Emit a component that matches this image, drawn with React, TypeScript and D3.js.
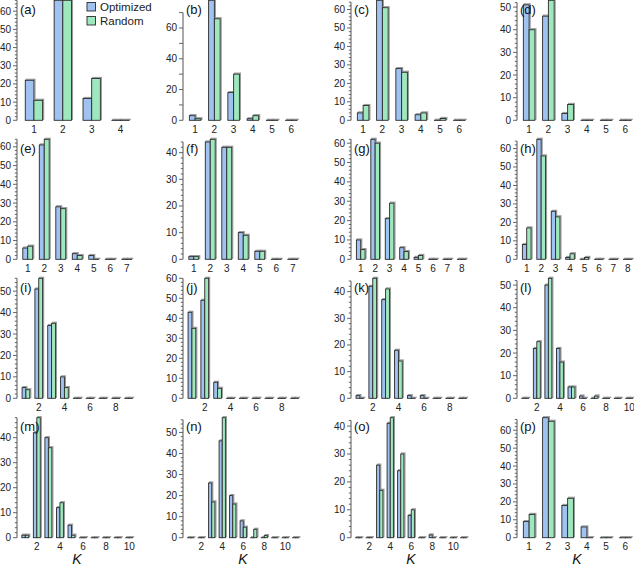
import React, { useRef, useEffect } from 'react';
import * as d3 from 'd3';

// counts per K for each panel (a)..(p)
const panelLetters = ['a', 'b', 'c', 'd', 'e', 'f', 'g', 'h', 'i', 'j', 'k', 'l', 'm', 'n', 'o', 'p'];

const optimized: number[][] = [
  [22, 66, 12, 0],
  [3, 78, 18, 1, 0, 0],
  [4, 65, 28, 3, 0, 0],
  [51, 46, 3, 0, 0, 0],
  [6, 61, 28, 3, 2, 0, 0],
  [1, 44, 42, 10, 3, 0, 0],
  [10, 62, 21, 6, 1, 0, 0, 0],
  [8, 65, 26, 1, 0, 0, 0, 0],
  [5, 51, 34, 10, 0, 0, 0, 0, 0],
  [43, 49, 8, 0, 0, 0, 0, 0, 0],
  [1, 42, 37, 18, 1, 1, 0, 0, 0],
  [0, 22, 50, 22, 5, 1, 0, 0, 0, 0],
  [1, 42, 40, 12, 5, 0, 0, 0, 0, 0],
  [0, 0, 26, 46, 20, 8, 0, 0, 0, 0, 0],
  [0, 0, 26, 41, 24, 8, 0, 1, 0, 0, 0],
  [9, 67, 18, 6, 0, 0],
];

const random: number[][] = [
  [11, 66, 23, 0],
  [1, 66, 30, 3, 0, 0],
  [8, 61, 26, 4, 1, 0],
  [40, 53, 7, 0, 0, 0],
  [7, 64, 27, 2, 0, 0, 0],
  [1, 45, 42, 9, 3, 0, 0],
  [5, 60, 29, 4, 2, 0, 0, 0],
  [17, 56, 23, 3, 1, 0, 0, 0],
  [4, 56, 35, 5, 0, 0, 0, 0, 0],
  [35, 60, 5, 0, 0, 0, 0, 0, 0],
  [0, 45, 41, 14, 0, 0, 0, 0, 0],
  [0, 25, 53, 16, 5, 0, 1, 0, 0, 0],
  [1, 48, 36, 14, 1, 0, 0, 0, 0, 0],
  [0, 0, 17, 57, 16, 5, 4, 1, 0, 0, 0],
  [0, 0, 17, 43, 30, 10, 0, 0, 0, 0, 0],
  [13, 65, 22, 0, 0, 0],
];

const xTickLabels: number[][] = [
  [1, 2, 3, 4],
  [1, 2, 3, 4, 5, 6],
  [1, 2, 3, 4, 5, 6],
  [1, 2, 3, 4, 5, 6],
  [1, 2, 3, 4, 5, 6, 7],
  [1, 2, 3, 4, 5, 6, 7],
  [1, 2, 3, 4, 5, 6, 7, 8],
  [1, 2, 3, 4, 5, 6, 7, 8],
  [2, 4, 6, 8],
  [2, 4, 6, 8],
  [2, 4, 6, 8],
  [2, 4, 6, 8, 10],
  [2, 4, 6, 8, 10],
  [2, 4, 6, 8, 10],
  [2, 4, 6, 8, 10],
  [1, 2, 3, 4, 5, 6],
];

const yMajorStep = [10, 20, 10, 10, 10, 10, 10, 10, 10, 10, 10, 10, 10, 10, 10, 10];
const yMinorStep = [2, 10, 2, 2, 2, 2, 2, 2, 2, 2, 2, 2, 2, 2, 2, 2];

const seriesNames = ['Optimized', 'Random'];
const seriesColors = ['#9fc2f1', '#9ee8bd'];

const FONT = '"Liberation Sans", Arial, Helvetica, sans-serif';

const App = () => {
  const svgRef = useRef<SVGSVGElement>(null);

  useEffect(() => {
    if (!svgRef.current) return;
    const svg = d3.select(svgRef.current);
    svg.selectAll('*').remove();

    const axisX = [17, 183, 351, 517];
    const rowBase = [120.3, 259.3, 398.3, 537.7];
    const plotH = 120;

    panelLetters.forEach((letter, p) => {
      const col = p % 4;
      const row = Math.floor(p / 4);
      const ax = axisX[col];
      const base = rowBase[row];
      const opt = optimized[p];
      const rnd = random[p];
      const n = opt.length;
      const ymax = d3.max([...opt, ...rnd]) as number;

      const x = d3.scaleLinear().domain([0.5, n + 0.5]).range([ax + 2.5, ax + 118]);
      const y = d3.scaleLinear().domain([0, ymax]).range([base, base - plotH]);
      const step = x(2) - x(1);
      const bw = step * 0.3;

      const g = svg.append('g');

      // y axis
      const minor = yMinorStep[p];
      const major = yMajorStep[p];
      const ticks = d3.range(0, ymax + 0.001, minor);
      const lastTick = ticks[ticks.length - 1];
      g.append('line')
        .attr('x1', ax).attr('x2', ax)
        .attr('y1', y(0)).attr('y2', y(lastTick))
        .attr('stroke', '#555').attr('stroke-width', 1);
      ticks.forEach(t => {
        const isMajor = t % major === 0;
        const isMid = !isMajor && t % 10 === 0;
        const len = isMajor || isMid ? 4 : 2.2;
        g.append('line')
          .attr('x1', ax - len).attr('x2', ax)
          .attr('y1', y(t)).attr('y2', y(t))
          .attr('stroke', '#555').attr('stroke-width', 0.9);
        if (isMajor) {
          g.append('text')
            .attr('x', ax - 6).attr('y', y(t)).attr('dy', '0.35em')
            .attr('text-anchor', 'end')
            .attr('font-size', 10).attr('font-family', FONT).attr('fill', '#222')
            .text(t);
        }
      });

      // bars
      const series = [opt, rnd];
      series.forEach((vals, s) => {
        vals.forEach((v, i) => {
          const bx = x(i + 1) - bw + s * bw;
          const top = y(v);
          const h = Math.max(base - top, 0.1);
          g.append('rect')
            .attr('x', bx + 1).attr('y', top - 1)
            .attr('width', bw).attr('height', h)
            .attr('fill', 'none').attr('stroke', '#9a9a9a').attr('stroke-width', 1.2);
          g.append('rect')
            .attr('x', bx).attr('y', top)
            .attr('width', bw).attr('height', h)
            .attr('fill', seriesColors[s]).attr('stroke', '#2a2a2a').attr('stroke-width', 0.9);
        });
      });

      // x tick labels
      xTickLabels[p].forEach(k => {
        g.append('text')
          .attr('x', x(k)).attr('y', base + 12.5)
          .attr('text-anchor', 'middle')
          .attr('font-size', 10).attr('font-family', FONT).attr('fill', '#222')
          .text(k);
      });

      // panel label
      g.append('text')
        .attr('x', ax + 3).attr('y', base - plotH + 13.5)
        .attr('font-size', 13).attr('font-family', FONT).attr('fill', '#111')
        .text(`(${letter})`);

      if (row === 3) {
        g.append('text')
          .attr('x', ax + 60).attr('y', 564)
          .attr('text-anchor', 'middle')
          .attr('font-size', 14).attr('font-style', 'italic')
          .attr('font-family', FONT).attr('fill', '#111')
          .text('K');
      }
    });

    // legend
    const lg = svg.append('g');
    seriesNames.forEach((name, i) => {
      lg.append('rect')
        .attr('x', 87).attr('y', 2.5 + i * 14)
        .attr('width', 8.5).attr('height', 8.5)
        .attr('fill', seriesColors[i]).attr('stroke', '#2a2a2a').attr('stroke-width', 0.9);
      lg.append('text')
        .attr('x', 100).attr('y', 6.8 + i * 14).attr('dy', '0.35em')
        .attr('font-size', 11.5).attr('font-family', FONT).attr('fill', '#222')
        .text(name);
    });
  }, []);

  return (
    <svg
      ref={svgRef}
      width={634}
      height={567}
      style={{ position: 'absolute', left: 0, top: 0, background: '#fff' }}
    />
  );
};

export default App;
